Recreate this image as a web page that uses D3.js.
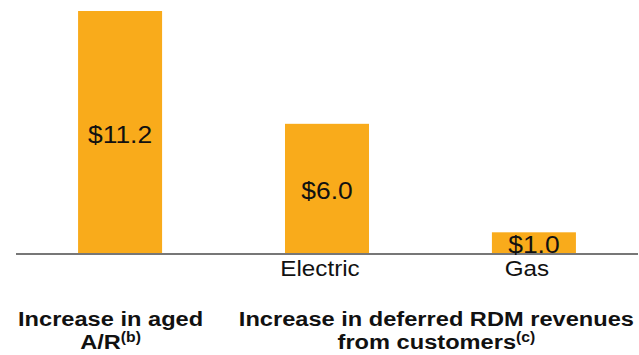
<!DOCTYPE html>
<html>
<head>
<meta charset="utf-8">
<script src="https://cdn.jsdelivr.net/npm/d3@7"></script>
<style>
  html, body { margin: 0; padding: 0; background: #fff; }
  svg { display: block; font-family: "Liberation Sans", Arial, sans-serif; }
</style>
</head>
<body>
<svg id="chart" width="639" height="355"></svg>
<script>
// Bar categories, values ($ millions) and their printed labels
const barKeys = ["aged", "electric", "gas"];
const barValues = [11.2, 6.0, 1.0];
const valueLabels = ["$11.2", "$6.0", "$1.0"];
const subLabels = ["", "Electric", "Gas"];

// Group captions under the axis: line 1, line 2 and a superscript note
const captionLine1 = ["Increase in aged", "Increase in deferred RDM revenues"];
const captionLine2 = ["A/R", "from customers"];
const captionNotes = ["(b)", "(c)"];

const svg = d3.select("#chart");
const barColor = "#F9AB1B";
const textColor = "#111";
const stretch = 1.1;      // plain text is set slightly wide
const boldStretch = 1.125; // captions a touch wider still

const x = d3.scaleBand()
  .domain(barKeys)
  .range([16, 638])
  .paddingInner(0.594)
  .paddingOuter(0.3);

const y = d3.scaleLinear()
  .domain([0, 11.2])
  .range([254, 11]);

// Adds a horizontally widened text anchored at (px, py)
function wideText(parent, px, py, sx = stretch) {
  return parent.append("g")
    .attr("transform", `translate(${px},${py})`)
    .append("text")
    .attr("transform", `scale(${sx},1)`)
    .attr("text-anchor", "middle")
    .attr("fill", textColor);
}

// Bars
svg.append("g")
  .selectAll("rect")
  .data(barKeys)
  .join("rect")
  .attr("x", d => x(d))
  .attr("width", x.bandwidth())
  .attr("y", (d, i) => y(barValues[i]))
  .attr("height", (d, i) => y(0) - y(barValues[i]))
  .attr("fill", barColor);

// Baseline
svg.append("line")
  .attr("x1", x.range()[0])
  .attr("x2", x.range()[1])
  .attr("y1", y(0))
  .attr("y2", y(0))
  .attr("stroke", "#777")
  .attr("stroke-width", 2);

// Value labels centred in each bar, sub-category labels under the axis
const labels = svg.append("g");
barKeys.forEach((k, i) => {
  const cx = x(k) + x.bandwidth() / 2;
  wideText(labels, cx, (y(barValues[i]) + y(0)) / 2 + 10)
    .attr("font-size", 24)
    .text(valueLabels[i]);
  if (subLabels[i]) {
    wideText(labels, cx - 7, y(0) + 22)
      .attr("font-size", 22)
      .text(subLabels[i]);
  }
});

// Bold group captions: first one sits at the left edge, last one at the right edge
const caps = svg.append("g");
const leftEdge = x.range()[0] + 2;
const rightEdge = x.range()[1] - 4;
captionLine1.forEach((line, i) => {
  const probe = caps.append("text")
    .attr("font-size", 21)
    .attr("font-weight", "bold")
    .text(line);
  const w = probe.node().getComputedTextLength() * boldStretch;
  probe.remove();
  const cx = i === 0 ? leftEdge + w / 2 : rightEdge - w / 2;

  wideText(caps, cx, 326, boldStretch)
    .attr("font-size", 21)
    .attr("font-weight", "bold")
    .text(line);

  const t2 = wideText(caps, cx, 349, boldStretch)
    .attr("font-size", 21)
    .attr("font-weight", "bold");
  t2.append("tspan").text(captionLine2[i]);
  t2.append("tspan")
    .attr("font-size", 14)
    .attr("dy", -7)
    .text(captionNotes[i]);
});
</script>
</body>
</html>
